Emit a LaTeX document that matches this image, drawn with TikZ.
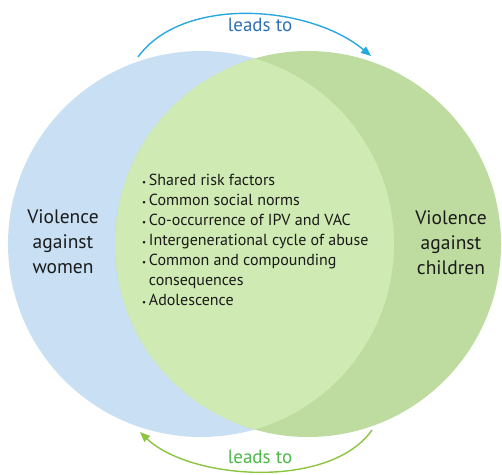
\documentclass[tikz,border=0pt]{standalone}
\usepackage{fontspec}
\setmainfont{PT Sans}
\usetikzlibrary{arrows.meta}
\definecolor{vawblue}{RGB}{201,224,244}
\definecolor{vacgreen}{RGB}{191,220,160}
\definecolor{sharedgreen}{RGB}{207,234,178}
\definecolor{leadsblue}{RGB}{41,168,224}
\definecolor{leadsbluetext}{RGB}{47,111,181}
\definecolor{leadsgreen}{RGB}{139,197,64}
\definecolor{leadsgreentext}{RGB}{77,184,72}
\definecolor{darktext}{RGB}{26,26,26}

\begin{document}
\begin{tikzpicture}[x=1pt, y=-1pt,
    sidetext/.style={align=center, text=darktext, font=\fontsize{19.5}{25}\selectfont},
    leadsline/.style={line width=1.4pt, -{Triangle[length=10pt,width=8pt]}},
    leadslabel/.style={font=\fontsize{19}{20}\selectfont}]
    \useasboundingbox (0,0) rectangle (502,474);

    % Two circles and their overlap
    \fill[vawblue] (201,244) circle (193pt);
    \fill[vacgreen] (308,244) circle (193pt);
    \begin{scope}
        \clip (201,244) circle (193pt);
        \fill[sharedgreen] (308,244) circle (193pt);
    \end{scope}

    % Circle labels
    \node[sidetext] (vaw) at (63,242) {Violence\\against\\women};
    \node[sidetext] (vac) at (451,243) {Violence\\against\\children};

    % Shared list
    \node[anchor=north west, align=left, text=darktext, inner sep=0pt,
          font=\fontsize{16}{20}\selectfont] (shared) at (142,174)
        {{\small\textbullet}\,Shared risk factors\\
         {\small\textbullet}\,Common social norms\\
         {\small\textbullet}\,Co-occurrence of IPV and VAC\\
         {\small\textbullet}\,Intergenerational cycle of abuse\\
         {\small\textbullet}\,Common and compounding\\
         \phantom{{\small\textbullet}\,}consequences\\
         {\small\textbullet}\,Adolescence};

    % Top arrow
    \coordinate (topstart) at (138,57);
    \coordinate (topend) at (371,56);
    \draw[leadsline, leadsblue] (topstart) .. controls (183,-5) and (310,5) .. (topend);
    \node[leadslabel, text=leadsbluetext] (topleads) at (260,25) {leads to};

    % Bottom arrow
    \coordinate (botstart) at (372,430);
    \coordinate (botend) at (140,432);
    \draw[leadsline, leadsgreen] (botstart) .. controls (330,490) and (190,480) .. (botend);
    \node[leadslabel, text=leadsgreentext] (botleads) at (260,457) {leads to};
\end{tikzpicture}
\end{document}
